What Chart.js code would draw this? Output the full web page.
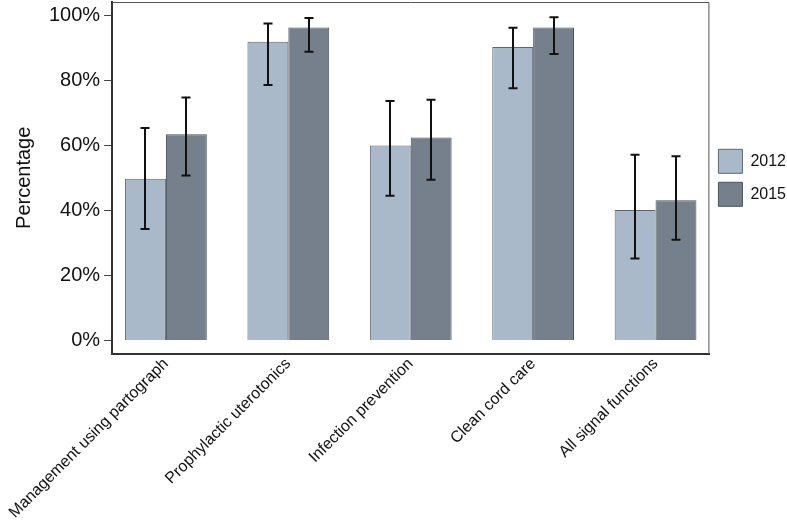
<!DOCTYPE html>
<html>
<head>
<meta charset="utf-8">
<script src="https://cdn.jsdelivr.net/npm/chart.js@4.4.1/dist/chart.umd.min.js"></script>
<style>
  html, body { margin: 0; padding: 0; background: #fff; }
  #wrap { width: 787px; height: 523px; position: relative; }
</style>
</head>
<body>
<div id="wrap"><canvas id="c"></canvas></div>
<script>
const categories = ["Management using partograph", "Prophylactic uterotonics", "Infection prevention", "Clean cord care", "All signal functions"];
const seriesNames = ["2012", "2015"];
const values2012 = [49.7, 91.8, 59.9, 90.2, 40.1];
const values2015 = [63.4, 96.2, 62.4, 96.2, 43.1];
const low2012 = [34.3, 78.5, 44.5, 77.5, 25.2];
const high2012 = [65.3, 97.4, 73.6, 96.1, 57.1];
const low2015 = [50.7, 88.7, 49.4, 88.0, 31.0];
const high2015 = [74.7, 99.1, 74.0, 99.3, 56.6];
const yTicks = [0, 20, 40, 60, 80, 100];

const FONT = "'Liberation Sans', Arial, sans-serif";

const errorBarPlugin = {
  id: 'errorBars',
  afterDatasetsDraw(chart) {
    const { ctx, scales } = chart;
    const y = scales.y;
    ctx.save();
    ctx.strokeStyle = '#111';
    ctx.lineWidth = 2;
    chart.data.datasets.forEach((ds, di) => {
      const meta = chart.getDatasetMeta(di);
      meta.data.forEach((bar, i) => {
        const x = Math.round(bar.x);
        const yl = y.getPixelForValue(ds.errLow[i]);
        const yh = y.getPixelForValue(ds.errHigh[i]);
        const cap = 4.5;
        ctx.beginPath();
        ctx.moveTo(x, yl); ctx.lineTo(x, yh);
        ctx.moveTo(x - cap, yl); ctx.lineTo(x + cap, yl);
        ctx.moveTo(x - cap, yh); ctx.lineTo(x + cap, yh);
        ctx.stroke();
      });
    });
    ctx.restore();
  }
};

const framePlugin = {
  id: 'frame',
  afterDraw(chart) {
    const { ctx, chartArea: a } = chart;
    ctx.save();
    ctx.strokeStyle = '#555';
    ctx.lineWidth = 1;
    ctx.beginPath();
    ctx.moveTo(a.left, a.top + 0.5);
    ctx.lineTo(a.right - 0.5, a.top + 0.5);
    ctx.lineTo(a.right - 0.5, a.bottom);
    ctx.stroke();
    ctx.restore();
  }
};

const mk = (vals) => vals.map((v, i) => ({ x: i, y: v }));

new Chart(document.getElementById('c'), {
  type: 'bar',
  data: {
    datasets: [
      {
        label: seriesNames[0],
        data: mk(values2012),
        errLow: low2012, errHigh: high2012,
        backgroundColor: '#a9b9c9',
        borderColor: '#5c6670',
        borderWidth: 1,
        categoryPercentage: 0.668,
        barPercentage: 1.0
      },
      {
        label: seriesNames[1],
        data: mk(values2015),
        errLow: low2015, errHigh: high2015,
        backgroundColor: '#75808c',
        borderColor: '#4a525a',
        borderWidth: 1,
        categoryPercentage: 0.668,
        barPercentage: 1.0
      }
    ]
  },
  options: {
    responsive: true,
    maintainAspectRatio: false,
    animation: false,
    layout: { padding: { top: 2, right: -9, left: 10, bottom: 0 } },
    plugins: {
      legend: {
        position: 'right',
        fullSize: false,
        labels: {
          boxWidth: 24, boxHeight: 24, padding: 9,
          color: '#111',
          font: { family: FONT, size: 16 }
        }
      },
      tooltip: { enabled: false }
    },
    scales: {
      x: {
        type: 'linear',
        offset: false,
        min: -0.44, max: 4.44,
        afterBuildTicks: (s) => { s.ticks = categories.map((_, i) => ({ value: i })); },
        ticks: {
          autoSkip: false,
          maxRotation: 45, minRotation: 45,
          padding: 2,
          color: '#111',
          font: { family: FONT, size: 16, lineHeight: 1 },
          callback: (v) => categories[v]
        },
        grid: { display: false, drawTicks: false },
        border: { display: true, color: '#333', width: 2 }
      },
      y: {
        min: -4, max: 104,
        afterBuildTicks: (s) => { s.ticks = yTicks.map(v => ({ value: v })); },
        afterFit: (s) => { s.paddingTop = 0; s.paddingBottom = 0; },
        ticks: {
          padding: 4,
          color: '#111',
          font: { family: FONT, size: 20 },
          callback: (v) => v + '%'
        },
        grid: { display: true, drawOnChartArea: false, drawTicks: true, tickLength: 8, color: '#444' },
        border: { display: true, color: '#333', width: 2 },
        title: {
          display: true,
          text: 'Percentage',
          color: '#111',
          font: { family: FONT, size: 20 },
          padding: { top: 0, bottom: 8 }
        }
      }
    }
  },
  plugins: [errorBarPlugin, framePlugin]
});
</script>
</body>
</html>
